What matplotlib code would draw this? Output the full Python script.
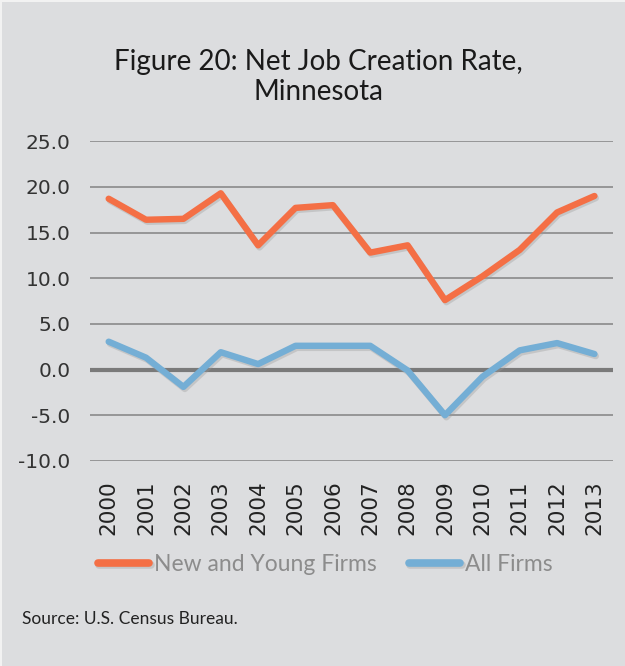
import matplotlib.pyplot as plt
import matplotlib.patheffects as pe
from matplotlib.patches import Rectangle
import numpy as np

years = [str(y) for y in range(2000, 2014)]
new_young = [18.7, 16.4, 16.5, 19.3, 13.6, 17.7, 18.0, 12.8, 13.6, 7.6, 10.2, 13.1, 17.2, 19.0]
all_firms = [3.05, 1.3, -1.9, 1.9, 0.6, 2.6, 2.6, 2.6, -0.1, -5.0, -0.8, 2.1, 2.9, 1.7]
yticks = [25.0, 20.0, 15.0, 10.0, 5.0, 0.0, -5.0, -10.0]

bg = "#DCDDDF"
orange = "#F46F45"
blue = "#74AED5"
font = "Lato"
tickfont = "DejaVu Sans"

fig = plt.figure(figsize=(6.25, 6.66), dpi=100, facecolor=bg)
# thin light border on top and left edge
fig.patches.append(Rectangle((0, 0), 2 / 625, 1, transform=fig.transFigure,
                             facecolor="#F2F2F2", edgecolor="none"))
fig.patches.append(Rectangle((0, 1 - 2 / 666), 1, 2 / 666, transform=fig.transFigure,
                             facecolor="#F2F2F2", edgecolor="none"))

ax = fig.add_axes([0.144, 0.308, 0.837, 0.480])
ax.set_facecolor(bg)

x = np.arange(len(years))
shadow = [pe.SimpleLineShadow(offset=(1, -1.5), shadow_color="#9a9a9a", alpha=0.35), pe.Normal()]

for yv in yticks:
    if yv == 0:
        ax.axhline(yv, color="#7A7A7A", lw=3, zorder=1)
    else:
        ax.axhline(yv, color="#8A8A8A", lw=1.2, zorder=1)

ax.plot(x, new_young, color=orange, lw=4.6, solid_capstyle="round",
        label="New and Young Firms", zorder=3, path_effects=shadow)
ax.plot(x, all_firms, color=blue, lw=4.6, solid_capstyle="round",
        label="All Firms", zorder=3, path_effects=shadow)

ax.set_xlim(-0.5, len(years) - 0.5)
ax.set_ylim(-10, 25)
ax.set_yticks(yticks)
ax.set_yticklabels([f"{v:.1f}" for v in yticks], fontsize=14.5, color="#333333",
                   family=tickfont)
ax.set_xticks(x)
ax.set_xticklabels(years, rotation=90, fontsize=15.5, color="#222222",
                   family=tickfont)
ax.tick_params(axis="y", length=0, pad=14)
ax.tick_params(axis="x", length=0, pad=14)
for s in ax.spines.values():
    s.set_visible(False)

fig.text(0.51, 0.884, "Figure 20: Net Job Creation Rate,\nMinnesota", ha="center", va="center",
         fontsize=20, family=font, color="#1a1a1a", linespacing=1.2)

leg = fig.legend(loc="center", bbox_to_anchor=(0.52, 0.153), ncol=2, frameon=False,
                 handlelength=2.25, handletextpad=0.2, columnspacing=1.4,
                 prop={"family": font, "size": 16.5})
for t in leg.get_texts():
    t.set_color("#8C8C8C")
for h in leg.get_lines():
    h.set_linewidth(5.5)
    h.set_solid_capstyle("round")

fig.text(0.035, 0.0706, "Source: U.S. Census Bureau.", fontsize=12.5, family=font,
         color="#222222", va="center")

fig.savefig("out.png", dpi=100, facecolor=bg)
